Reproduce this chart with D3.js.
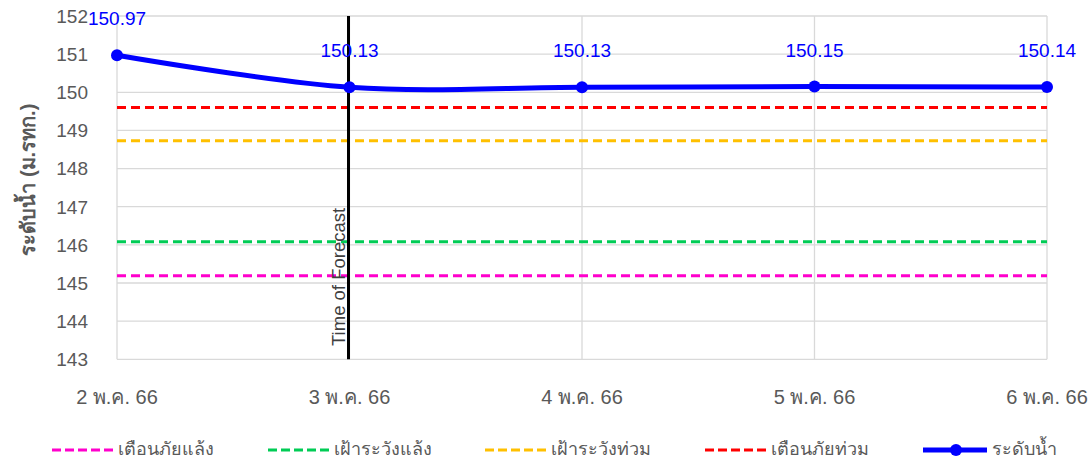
<!DOCTYPE html>
<html><head><meta charset="utf-8">
<script src="https://cdn.jsdelivr.net/npm/d3@7/dist/d3.min.js"></script>
<style>
html,body{margin:0;padding:0;background:#fff;}
svg text{font-family:"Liberation Sans","Noto Sans",sans-serif;}
</style></head>
<body><svg id="c" width="1091" height="461"></svg>
<script>
const categories = ["2 พ.ค. 66","3 พ.ค. 66","4 พ.ค. 66","5 พ.ค. 66","6 พ.ค. 66"];
const waterLevel = [150.97,150.13,150.13,150.15,150.14];
const droughtWarning = 145.19;   // เตือนภัยแล้ง
const droughtWatch = 146.08;     // เฝ้าระวังแล้ง
const floodWatch = 148.73;       // เฝ้าระวังท่วม
const floodWarning = 149.60;     // เตือนภัยท่วม
const yTicks = [143,144,145,146,147,148,149,150,151,152];
const forecastCategory = "3 พ.ค. 66";
const yTitle = "ระดับน้ำ (ม.รทก.)";
const forecastLabel = "Time of Forecast";

const thresholds = [
  {name:"เตือนภัยแล้ง", value:droughtWarning, color:"#ff00cc"},
  {name:"เฝ้าระวังแล้ง", value:droughtWatch, color:"#00cc55"},
  {name:"เฝ้าระวังท่วม", value:floodWatch, color:"#ffc000"},
  {name:"เตือนภัยท่วม", value:floodWarning, color:"#ff0000"}
];

const svg = d3.select("#c");
const L=117, R=1047, T=16, B=359.3;
const x = d3.scalePoint().domain(categories).range([L,R]);
const y = d3.scaleLinear().domain([143,152]).range([B,T]);
const grid = "#d9d9d9", txt = "#595959";

// horizontal gridlines
svg.append("g").selectAll("line").data(yTicks).join("line")
  .attr("x1",L).attr("x2",R).attr("y1",d=>y(d)).attr("y2",d=>y(d))
  .attr("stroke",grid).attr("stroke-width",1.3);
// vertical gridlines
svg.append("g").selectAll("line").data(categories).join("line")
  .attr("x1",d=>x(d)).attr("x2",d=>x(d)).attr("y1",T).attr("y2",B)
  .attr("stroke",grid).attr("stroke-width",1.3);

// y tick labels
svg.append("g").selectAll("text").data(yTicks).join("text")
  .attr("x",88).attr("y",d=>y(d)).attr("dy","0.36em")
  .attr("text-anchor","end").attr("fill",txt).attr("font-size",19)
  .text(d=>d);
// x tick labels
svg.append("g").selectAll("text").data(categories).join("text")
  .attr("x",d=>x(d)).attr("y",404)
  .attr("text-anchor","middle").attr("fill",txt).attr("font-size",20)
  .text(d=>d);

// y title
svg.append("text").attr("transform",`translate(35,${(T+B)/2-8}) rotate(-90)`)
  .attr("text-anchor","middle").attr("fill",txt).attr("font-size",20).attr("font-weight","bold")
  .text(yTitle);

// threshold lines
svg.append("g").selectAll("line").data(thresholds).join("line")
  .attr("x1",L).attr("x2",R).attr("y1",d=>y(d.value)).attr("y2",d=>y(d.value))
  .attr("stroke",d=>d.color).attr("stroke-width",3).attr("stroke-dasharray","9,5");

// forecast line
const fx = x(forecastCategory)-1;
svg.append("line").attr("x1",fx).attr("x2",fx).attr("y1",T).attr("y2",B)
  .attr("stroke","#000").attr("stroke-width",3);
svg.append("text").attr("transform",`translate(${fx-4},346) rotate(-90)`)
  .attr("fill","#404040").attr("font-size",18.5).text(forecastLabel);

// water level
const pts = categories.map((c,i)=>({c, v:waterLevel[i]}));
svg.append("path").datum(pts)
  .attr("d", d3.line().x(d=>x(d.c)).y(d=>y(d.v)).curve(d3.curveCardinal.tension(0)))
  .attr("fill","none").attr("stroke","#0000ff").attr("stroke-width",5);
svg.append("g").selectAll("circle").data(pts).join("circle")
  .attr("cx",d=>x(d.c)).attr("cy",d=>y(d.v)).attr("r",6).attr("fill","#0000ff");
svg.append("g").selectAll("text").data(pts).join("text")
  .attr("x",d=>x(d.c)).attr("y",d=>y(d.v)-30)
  .attr("text-anchor","middle").attr("fill","#0000ff").attr("font-size",19)
  .text(d=>d.v.toFixed(2));

// legend
const legendItems = thresholds.map(t=>({name:t.name,color:t.color,dash:true}))
  .concat([{name:"ระดับน้ำ",color:"#0000ff",dash:false}]);
const legX = [52,268,485,705,923];
const lg = svg.append("g").selectAll("g").data(legendItems).join("g")
  .attr("transform",(d,i)=>`translate(${legX[i]},450)`);
lg.append("line").attr("x1",0).attr("x2",d=>d.dash?61:64).attr("y1",0).attr("y2",0)
  .attr("stroke",d=>d.color).attr("stroke-width",d=>d.dash?3:5)
  .attr("stroke-dasharray",d=>d.dash?"9,4":null);
lg.filter(d=>!d.dash).append("circle").attr("cx",33).attr("cy",0).attr("r",6).attr("fill",d=>d.color);
lg.append("text").attr("x",d=>d.dash?66:69).attr("y",0).attr("dy","0.3em")
  .attr("fill",txt).attr("font-size",18).text(d=>d.name);
</script></body></html>
